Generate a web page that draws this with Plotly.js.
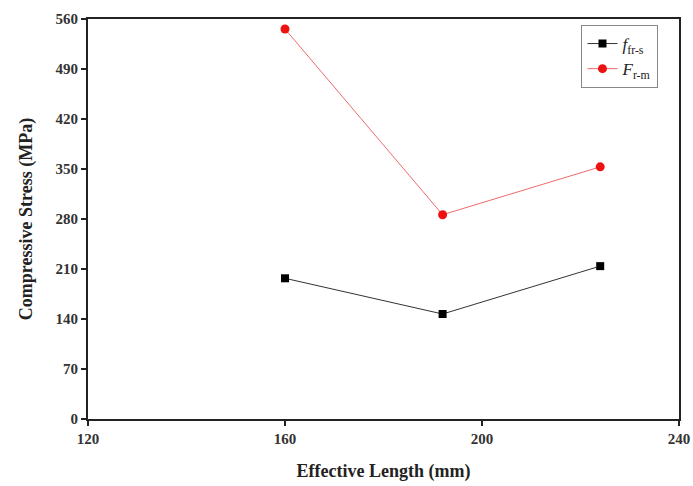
<!DOCTYPE html>
<html><head><meta charset="utf-8">
<script src="https://cdn.plot.ly/plotly-3.0.1.min.js"></script>
<style>html,body{margin:0;padding:0;background:#fff;}</style>
</head><body>
<div id="chart" style="width:693px;height:486px;"></div>
<script>
const effLength = [160, 192, 224];
const ffrs = [197, 147, 214];
const Frm = [546, 286, 353];
const seriesNames = ['<i>f</i><sub>fr-s</sub>', '<i>F</i><sub>r-m</sub>'];
const xTicks = [120, 160, 200, 240];
const yTicks = [0, 70, 140, 210, 280, 350, 420, 490, 560];

const traces = [
  {x: effLength, y: ffrs, name: seriesNames[0], mode: 'lines+markers',
   line: {color: '#333333', width: 1}, marker: {symbol: 'square', size: 8, color: '#000000'}},
  {x: effLength, y: Frm, name: seriesNames[1], mode: 'lines+markers',
   line: {color: '#ee6b6b', width: 1}, marker: {symbol: 'circle', size: 9, color: '#ee1111'}}
];
const tf = {family: 'Liberation Serif, Times New Roman, serif', size: 15, color: '#333'};
const layout = {
  width: 693, height: 486,
  margin: {l: 88, r: 14, t: 19, b: 67},
  paper_bgcolor: '#fff', plot_bgcolor: '#fff',
  font: {family: 'Liberation Serif, serif', color: '#222', size: 14},
  showlegend: true,
  legend: {x: 0.835, y: 0.985, xanchor: 'left', yanchor: 'top', bordercolor: '#888', borderwidth: 1,
           font: {family: 'Liberation Serif, serif', size: 17, color: '#222'}, tracegroupgap: 0},
  xaxis: {range: [120, 240], tickvals: xTicks, ticktext: xTicks.map(v => '<b>' + v + '</b>'),
          showline: true, linecolor: '#222', linewidth: 2, mirror: true, showgrid: false, zeroline: false,
          ticks: 'outside', ticklen: 5, tickwidth: 2, tickcolor: '#222',
          tickfont: tf,
          title: {text: '<b>Effective Length (mm)</b>', font: {family: 'Liberation Serif, serif', size: 18, color: '#222'}, standoff: 18}},
  yaxis: {range: [0, 560], tickvals: yTicks, ticktext: yTicks.map(v => '<b>' + v + '</b>'),
          showline: true, linecolor: '#222', linewidth: 2, mirror: true, showgrid: false, zeroline: false,
          ticks: 'outside', ticklen: 5, tickwidth: 2, tickcolor: '#222',
          tickfont: tf,
          title: {text: '<b>Compressive Stress (MPa)</b>', font: {family: 'Liberation Serif, serif', size: 18, color: '#222'}, standoff: 18}}
};
Plotly.newPlot('chart', traces, layout, {displayModeBar: false, staticPlot: true});
</script>
</body></html>
